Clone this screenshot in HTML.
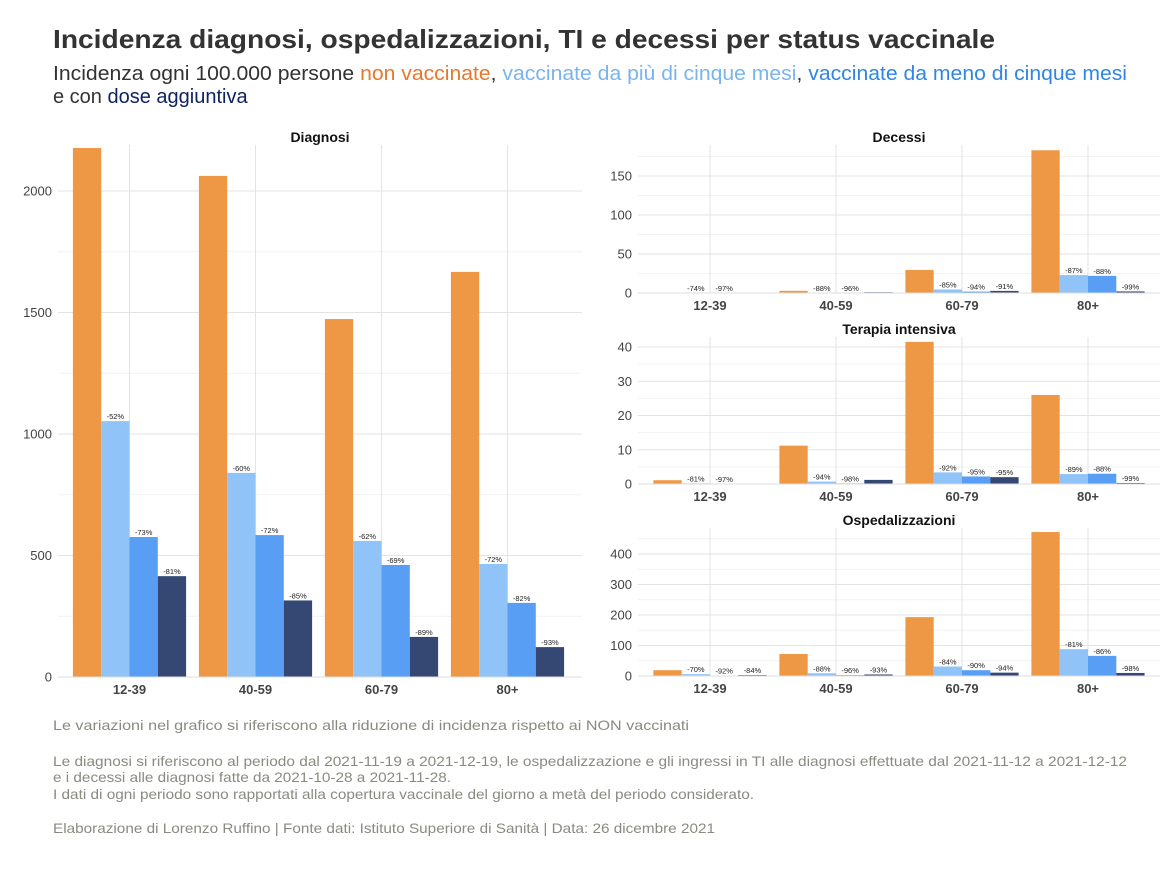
<!DOCTYPE html>
<html><head><meta charset="utf-8"><style>
html,body{margin:0;padding:0;background:#fff;}
svg{display:block;font-family:"Liberation Sans",Arial,sans-serif;}
</style></head><body>
<svg id="chart" width="1170" height="877" viewBox="0 0 1170 877">
<text x="53" y="48" font-size="26" font-weight="bold" fill="#333" textLength="942" lengthAdjust="spacingAndGlyphs">Incidenza diagnosi, ospedalizzazioni, TI e decessi per status vaccinale</text>
<text x="53" y="80" font-size="20" fill="#333" textLength="1074" lengthAdjust="spacingAndGlyphs">Incidenza ogni 100.000 persone <tspan fill="#E8782A">non vaccinate</tspan>, <tspan fill="#79B4EE">vaccinate da più di cinque mesi</tspan>, <tspan fill="#2F86E6">vaccinate da meno di cinque mesi</tspan></text>
<text x="53" y="103" font-size="20" fill="#333">e con <tspan fill="#0E2461">dose aggiuntiva</tspan></text>
<g id="panels"></g>
<g fill="#8a8a80" font-size="14">
<text x="53" y="730" textLength="636" lengthAdjust="spacingAndGlyphs">Le variazioni nel grafico si riferiscono alla riduzione di incidenza rispetto ai NON vaccinati</text>
<text x="53" y="766" textLength="1074" lengthAdjust="spacingAndGlyphs">Le diagnosi si riferiscono al periodo dal 2021-11-19 a 2021-12-19, le ospedalizzazione e gli ingressi in TI alle diagnosi effettuate dal 2021-11-12 a 2021-12-12</text>
<text x="53" y="782" textLength="398" lengthAdjust="spacingAndGlyphs">e i decessi alle diagnosi fatte da 2021-10-28 a 2021-11-28.</text>
<text x="53" y="799" textLength="701" lengthAdjust="spacingAndGlyphs">I dati di ogni periodo sono rapportati alla copertura vaccinale del giorno a metà del periodo considerato.</text>
<text x="53" y="833" textLength="662" lengthAdjust="spacingAndGlyphs">Elaborazione di Lorenzo Ruffino | Fonte dati: Istituto Superiore di Sanità | Data: 26 dicembre 2021</text>
</g>
</svg>
<script>
const categories = ["12-39","40-59","60-79","80+"];
const seriesColors = ["#EE9744","#90C4F8","#589EF4","#354874"];
// Diagnosi
const diagNonVax = [2177, 2062, 1473, 1667];
const diagOver5 = [1053, 840, 560, 465];
const diagUnder5 = [576, 584, 461, 305];
const diagBooster = [415, 315, 165, 123];
const diagLabels = [["-52%","-73%","-81%"],["-60%","-72%","-85%"],["-62%","-69%","-89%"],["-72%","-82%","-93%"]];
const diagTicks = [0, 500, 1000, 1500, 2000];
// Decessi
const decNonVax = [0.5, 2.8, 29.5, 183];
const decOver5 = [0.13, 0.3, 4.5, 23];
const decUnder5 = [0.02, 0.1, 1.8, 22];
const decBooster = [0, 1.0, 2.7, 2];
const decLabels = [["-74%","-97%",null],["-88%","-96%",null],["-85%","-94%","-91%"],["-87%","-88%","-99%"]];
const decTicks = [0, 50, 100, 150];
// Terapia intensiva
const tiNonVax = [1.1, 11.2, 41.5, 26];
const tiOver5 = [0.2, 0.7, 3.4, 2.9];
const tiUnder5 = [0.03, 0.2, 2.2, 3.0];
const tiBooster = [0, 1.2, 2.0, 0.3];
const tiLabels = [["-81%","-97%",null],["-94%","-98%",null],["-92%","-95%","-95%"],["-89%","-88%","-99%"]];
const tiTicks = [0, 10, 20, 30, 40];
// Ospedalizzazioni
const osNonVax = [19, 72, 193, 472];
const osOver5 = [6, 9, 31, 88];
const osUnder5 = [1.5, 3, 19, 66];
const osBooster = [3, 5, 11, 10];
const osLabels = [["-70%","-92%","-84%"],["-88%","-96%","-93%"],["-84%","-90%","-94%"],["-81%","-86%","-98%"]];
const osTicks = [0, 100, 200, 300, 400];

const NS = "http://www.w3.org/2000/svg";
const root = document.getElementById("panels");
function mk(tag, attrs, parent){const e=document.createElementNS(NS,tag);for(const k in attrs)e.setAttribute(k,attrs[k]);parent.appendChild(e);return e;}

function panel(cfg){
  const g = mk("g",{},root);
  
  
  const yScale = v => cfg.y0 - (v - 0) * (cfg.y0 - cfg.yTopVal) / cfg.topTick;
  const step = 126, bw = 28.3;
  const xc = i => cfg.firstCenter + i * step;
  // minor grid
  for (let k=0;k<cfg.ticks.length;k++){
    const mid = cfg.ticks[k] + (cfg.ticks[1]-cfg.ticks[0])/2;
    const ym = yScale(mid);
    if (ym > cfg.top) mk("line",{x1:cfg.x0,x2:cfg.x1,y1:ym,y2:ym,stroke:"#f2f2f2","stroke-width":1},g);
  }
  // major grid + ticks
  cfg.ticks.forEach(t=>{
    const y=yScale(t);
    mk("line",{x1:cfg.x0,x2:cfg.x1,y1:y,y2:y,stroke:"#e3e3e3","stroke-width":1},g);
    const tl = mk("text",{x:cfg.x0-6,y:y+4.5,"font-size":13,fill:"#444","text-anchor":"end"},g);
    tl.textContent = t;
    
    
  });
  categories.forEach((c,i)=>{
    mk("line",{x1:xc(i),x2:xc(i),y1:cfg.top,y2:cfg.y0,stroke:"#e3e3e3","stroke-width":1},g);
    const xl = mk("text",{x:xc(i),y:cfg.y0+17,"font-size":13,"font-weight":"bold",fill:"#444","text-anchor":"middle"},g);
    xl.textContent = c;
    
    
  });
  const t = mk("text",{x:(cfg.x0+cfg.x1)/2,y:cfg.top-3,"font-size":14,"font-weight":"bold",fill:"#111","text-anchor":"middle"},g);
  t.textContent = cfg.title;
  
  
  cfg.series.forEach((vals,s)=>{
    vals.forEach((v,i)=>{
      const x = xc(i) - 2*bw + s*bw;
      const yt = yScale(v);
      const r = mk("rect",{x:x,y:yt,width:bw,height:Math.max(0,cfg.y0-yt),fill:seriesColors[s]},g);
      
      
      if (s>0){
        const lab = cfg.labels[i][s-1];
        if (lab){
          const lt = mk("text",{x:x+bw/2,y:yt-2,"font-size":7.5,fill:"#222","text-anchor":"middle"},g);
          lt.textContent = lab;
          
          
        }
      }
    });
  });
  mk("line",{x1:cfg.x0,x2:cfg.x1,y1:cfg.y0,y2:cfg.y0,stroke:"#ddd","stroke-width":1},g);
}

panel({name:"diagnosi-panel",title:"Diagnosi",x0:58,x1:582,top:145,y0:677,yTopVal:191,topTick:2000,firstCenter:129.5,
  ticks:diagTicks,series:[diagNonVax,diagOver5,diagUnder5,diagBooster],labels:diagLabels});
panel({name:"decessi-panel",title:"Decessi",x0:638,x1:1160,top:145,y0:293,yTopVal:176,topTick:150,firstCenter:710,
  ticks:decTicks,series:[decNonVax,decOver5,decUnder5,decBooster],labels:decLabels});
panel({name:"terapia-intensiva-panel",title:"Terapia intensiva",x0:638,x1:1160,top:337,y0:484,yTopVal:347,topTick:40,firstCenter:710,
  ticks:tiTicks,series:[tiNonVax,tiOver5,tiUnder5,tiBooster],labels:tiLabels});
panel({name:"ospedalizzazioni-panel",title:"Ospedalizzazioni",x0:638,x1:1160,top:528,y0:676,yTopVal:554,topTick:400,firstCenter:710,
  ticks:osTicks,series:[osNonVax,osOver5,osUnder5,osBooster],labels:osLabels});
</script>
</body></html>
